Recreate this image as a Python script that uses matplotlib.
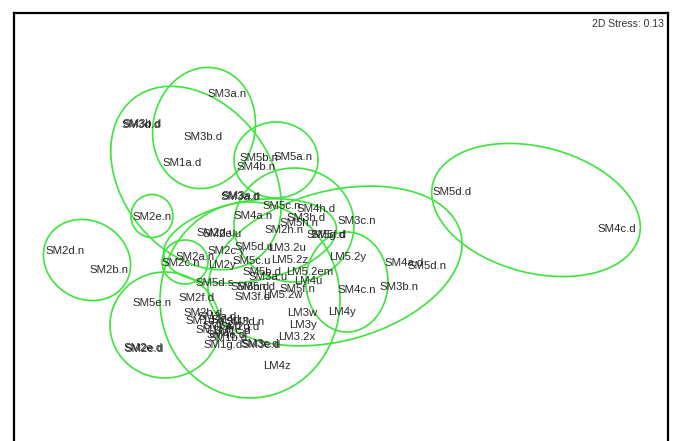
"""NMDS ordination plot with group ellipses (2D stress 0.13)."""
import matplotlib
matplotlib.use("Agg")
import matplotlib.pyplot as plt
from matplotlib.patches import Ellipse

# Sample labels and their ordination positions (read off the picture,
# in picture pixel units, y growing downwards).
labels = [
    "SM3a.n", "SM3d.d", "SM3b.d", "SM3b.d", "SM1a.d", "SM5b.n", "SM4b.n",
    "SM5a.n", "SM3a.d", "SM3a.n", "SM2e.n", "SM2d.n", "SM2b.n", "SM5d.d",
    "SM4c.d", "SM4a.n", "SM5c.n", "SM4h.d", "SM3h.d", "SM5h.n", "SM2h.n",
    "SM5g.d", "SM5f.d", "SM3c.n", "SM2d.u", "SM2e.u", "SM5d.u", "LM3.2u",
    "SM2a.n", "SM2c.y", "SM2c.n", "LM2y", "SM5c.u", "LM5.2z", "LM5.2y",
    "SM4a.d", "SM5d.n", "SM3b.n", "SM4c.n", "LM4y", "LM5.2em", "SM5b.d",
    "SM3a.u", "LM4u", "SM5d.s", "SM6n.d", "SM5n.d", "SM5f.n", "LM5.2w",
    "SM3f.d", "SM2f.d", "SM5e.n", "LM3w", "LM3y", "LM3.2x", "SM1g.d",
    "SM3c.d", "SM3e.d", "LM4z", "SM2e.d", "SM2e.d",
    "SM2a.d", "SM1d.d", "SM4d.n", "SM5a.d", "SM2g.d", "SM1c.d", "SM4e.d",
    "SM3d.n", "SM1f.d", "SM1b.d", "SM2b.d",
]
dim1 = [
    227, 141, 142, 203, 182, 259, 256,
    293, 240, 241, 152, 65, 109, 452,
    617, 253, 282, 316, 306, 299, 284,
    326, 328, 357, 216, 222, 254, 287,
    195, 226, 181, 222, 252, 290, 348,
    404, 427, 399, 357, 342, 310, 262,
    268, 308, 215, 250, 256, 297, 283,
    253, 197, 152, 302, 303, 297, 223,
    260, 261, 277, 143, 144,
    217, 205, 230, 222, 240, 232, 226,
    245, 214, 228, 203,
]
dim2 = [
    94, 125, 124, 137, 163, 158, 167,
    157, 197, 196, 217, 251, 270, 192,
    229, 216, 206, 209, 218, 223, 230,
    235, 235, 221, 233, 234, 247, 248,
    257, 251, 263, 265, 261, 260, 257,
    263, 266, 287, 290, 312, 272, 272,
    277, 281, 283, 287, 287, 289, 295,
    297, 298, 303, 313, 325, 337, 345,
    344, 345, 366, 348, 349,
    317, 321, 320, 326, 327, 331, 335,
    322, 330, 338, 313,
]

# Group ellipses: centre, full width, full height, tilt (degrees).
ell_x = [204, 196, 276, 152, 87, 536, 335, 347, 294, 250, 185, 250, 165]
ell_y = [128, 178, 160, 216, 260, 210, 266, 282, 225, 241, 262, 300, 325]
ell_w = [122, 202, 84, 42, 90, 213, 260, 82, 120, 175, 46, 180, 110]
ell_h = [102, 148, 76, 43, 78, 126, 150, 100, 114, 80, 44, 196, 106]
ell_angle = [-78, 52, 0, 0, 30, 14.5, -15, 0, 0, -10, 0, 0, 0]

stress = 0.13

fig = plt.figure(figsize=(6.75, 4.41), dpi=100)
# the frame is open at the bottom, so the axes run off the figure edge
ax = fig.add_axes([14 / 675, 0, 654 / 675, 428 / 441])
ax.set_xlim(14, 668)
ax.set_ylim(441, 13)
ax.set_xticks([])
ax.set_yticks([])
for side in ["top", "left", "right"]:
    ax.spines[side].set_linewidth(1.6)
ax.spines["bottom"].set_visible(False)

for x, y, w, h, a in zip(ell_x, ell_y, ell_w, ell_h, ell_angle):
    ax.add_patch(Ellipse((x, y), w, h, angle=a, fill=False,
                         edgecolor="#3ce43c", linewidth=1.2))

for name, x, y in zip(labels, dim1, dim2):
    ax.text(x, y, name, ha="center", va="center", fontsize=8.2,
            family="Liberation Sans", color="#2a2a2a")

ax.text(0.994, 0.985, f"2D Stress: {stress:.2f}", transform=ax.transAxes,
        ha="right", va="top", fontsize=7.5, family="Liberation Sans",
        color="#333333")

fig.savefig("out.png", dpi=100)
